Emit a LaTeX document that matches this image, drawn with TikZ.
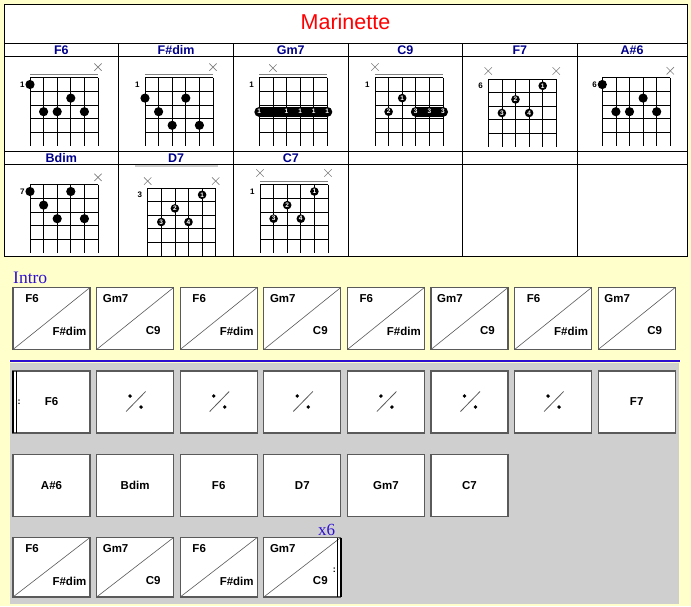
\documentclass[tikz,border=0pt]{standalone}
\usepackage{fontspec}
\setmainfont{Liberation Sans}
\newfontfamily\serifface{Liberation Serif}

\definecolor{pagebg}{RGB}{255,255,204}
\definecolor{gridarea}{RGB}{207,207,207}
\definecolor{boxedge}{RGB}{90,90,90}
\definecolor{headblue}{RGB}{0,0,140}
\definecolor{songblue}{RGB}{48,16,208}

\tikzset{
  tablerule/.style={line width=1pt},
  neckat/.style={shift={#1}, x=13.6pt, y=-13.6pt},
  gridline/.style={line width=0.8pt},
  nutline/.style={gray, line width=0.8pt},
  mutex/.style={gray, line width=0.6pt},
  fretnum/.style={font=\bfseries\fontsize{8}{8}\selectfont, inner sep=0pt},
  fingerdot/.style={circle, fill=black, text=white, inner sep=0pt, minimum size=8.6pt,
    font=\bfseries\fontsize{6.5}{6.5}\selectfont},
  barrenum/.style={text=white, inner sep=0pt, font=\bfseries\fontsize{6.5}{6.5}\selectfont},
  songtitle/.style={text=red, font=\fontsize{21.5}{22}\selectfont},
  headlbl/.style={text=headblue, inner sep=0pt, font=\bfseries\fontsize{12.5}{12.5}\selectfont},
  songlbl/.style={text=songblue, inner sep=0pt, anchor=base west},
  barbox/.style={draw=boxedge, fill=white, line width=1.3pt, minimum width=77pt,
    minimum height=62pt, inner sep=0pt, outer sep=0pt, anchor=north west,
    font=\bfseries\fontsize{11.5}{12}\selectfont},
  splitline/.style={boxedge, line width=0.6pt},
  chordlbl/.style={inner sep=0pt, font=\bfseries\fontsize{11.5}{12}\selectfont},
  repsign/.style={inner sep=0pt, font=\bfseries\fontsize{9}{9}\selectfont},
}

% chord diagram pieces (inside a neckat scope)
\newcommand{\fretgrid}[1]{%
  \foreach \s in {0,...,5} \draw[gridline] (\s,0) -- (\s,5);
  \foreach \f in {0,...,4} \draw[gridline] (0,\f) -- (5,\f);
  \node[fretnum] at (-0.57,0.5) {#1};}
\newcommand{\nutbar}{\draw[nutline] (0,-0.25) -- (5,-0.25);}
\newcommand{\mutemark}[2]{\draw[mutex] (#1,#2) ++(-0.27,-0.27) -- ++(0.54,0.54)
  (#1,#2) ++(-0.27,0.27) -- ++(0.54,-0.54);}
\newcommand{\pdot}[2]{\fill (#1,#2-0.5) circle[radius=4.6pt];}
\newcommand{\fdot}[3]{\node[fingerdot] at (#1,#2-0.5) {#3};}
\newcommand{\barre}[3]{\draw[line width=10pt, line cap=round] (#1,#3-0.5) -- (#2,#3-0.5);}
% repeat-previous-bar sign
\newcommand{\simile}[1]{%
  \draw[splitline, line width=0.8pt] ([xshift=-9pt,yshift=-9.5pt]#1.center) -- ([xshift=10.5pt,yshift=10.5pt]#1.center);
  \fill ([xshift=-5pt,yshift=6pt]#1.center) circle[radius=1.9pt];
  \fill ([xshift=6pt,yshift=-5pt]#1.center) circle[radius=1.9pt];}

\begin{document}
\begin{tikzpicture}[x=1pt, y=-1pt]
  \fill[pagebg] (0,0) rectangle (691,606);
  \useasboundingbox (0,0) rectangle (691,606);

  % chord table
  \fill[white] (4,4) rectangle (687,256.5);
  \draw[tablerule] (4,4) rectangle (687,256.5);
  \foreach \y in {43,56.5,151.3,164} \draw[tablerule] (4,\y) -- (687,\y);
  \foreach \x in {118.7,233.5,348,462.5,577} \draw[tablerule] (\x,43) -- (\x,256.5);
  \node[songtitle] (title) at (345.5,22) {Marinette};
  \foreach \x/\name [count=\i] in {61.3/F6,176.1/F\#dim,290.8/Gm7,405.3/C9,519.8/F7,632/A\#6}
    \node[headlbl] (headA\i) at (\x,49.8) {\name};
  \foreach \x/\name [count=\i] in {61.3/Bdim,176.1/D7,290.8/C7}
    \node[headlbl] (headB\i) at (\x,157.8) {\name};
  \draw[gray!40, line width=2pt] (135,165.5) -- (218,165.5);

  % F6
  \begin{scope}[neckat={(30,77.7)}]
    \fretgrid{1} \nutbar \mutemark{5}{-0.78}
    \pdot{0}{1} \pdot{3}{2} \pdot{1}{3} \pdot{2}{3} \pdot{4}{3}
  \end{scope}
  % F#dim
  \begin{scope}[neckat={(145,77.7)}]
    \fretgrid{1} \nutbar \mutemark{5}{-0.78}
    \pdot{0}{2} \pdot{3}{2} \pdot{1}{3} \pdot{2}{4} \pdot{4}{4}
  \end{scope}
  % Gm7
  \begin{scope}[neckat={(259.3,77.7)}]
    \fretgrid{1} \nutbar \mutemark{1}{-0.71}
    \barre{0}{5}{3}
    \foreach \s in {0,2,3,4,5} \node[barrenum] at (\s,2.5) {1};
  \end{scope}
  % C9
  \begin{scope}[neckat={(375,77.7)}]
    \fretgrid{1} \nutbar \mutemark{0}{-0.79}
    \fdot{2}{2}{1} \fdot{1}{3}{2}
    \barre{3}{5}{3}
    \foreach \s in {3,4,5} \node[barrenum] at (\s,2.5) {3};
  \end{scope}
  % F7
  \begin{scope}[neckat={(488.3,79)}]
    \fretgrid{6} \mutemark{0}{-0.59} \mutemark{5}{-0.59}
    \fdot{4}{1}{1} \fdot{2}{2}{2} \fdot{1}{3}{3} \fdot{3}{3}{4}
  \end{scope}
  % A#6
  \begin{scope}[neckat={(602.3,77.7)}]
    \fretgrid{6} \mutemark{5}{-0.51}
    \pdot{0}{1} \pdot{3}{2} \pdot{1}{3} \pdot{2}{3} \pdot{4}{3}
  \end{scope}
  % Bdim
  \begin{scope}[neckat={(30,184.7)}]
    \fretgrid{7} \mutemark{5}{-0.54}
    \pdot{0}{1} \pdot{3}{1} \pdot{1}{2} \pdot{2}{3} \pdot{4}{3}
  \end{scope}
  % D7
  \begin{scope}[neckat={(147.7,188)}]
    \fretgrid{3} \mutemark{0}{-0.51} \mutemark{5}{-0.51}
    \fdot{4}{1}{1} \fdot{2}{2}{2} \fdot{1}{3}{3} \fdot{3}{3}{4}
  \end{scope}
  % C7
  \begin{scope}[neckat={(260,184.7)}]
    \fretgrid{1} \nutbar \mutemark{0}{-0.86} \mutemark{5}{-0.86}
    \fdot{4}{1}{1} \fdot{2}{2}{2} \fdot{1}{3}{3} \fdot{3}{3}{4}
  \end{scope}

  % intro
  \node[songlbl, font=\serifface\fontsize{17.5}{18}\selectfont] (introlbl) at (13,283.5) {Intro};
  \foreach \top/\bot [count=\i from 0] in {F6/F\#dim,Gm7/C9,F6/F\#dim,Gm7/C9,F6/F\#dim,Gm7/C9,F6/F\#dim,Gm7/C9} {
    \node[barbox] (in\i) at (13+83.6*\i,287.5) {};
    \draw[splitline] (in\i.south west) -- (in\i.north east);
    \node[chordlbl] at ([xshift=19pt,yshift=-11pt]in\i.north west) {\top};
    \node[chordlbl] at ([xshift=-20.5pt,yshift=18.5pt]in\i.south east) {\bot};
  }

  % verse
  \fill[gridarea] (10,362.5) rectangle (678.5,604);
  \draw[songblue, line width=2.2pt] (10,361) -- (680,361);

  \node[barbox] (va0) at (13,371) {F6};
  \foreach \i in {1,...,6} {
    \node[barbox] (va\i) at (13+83.6*\i,371) {};
    \simile{va\i}
  }
  \node[barbox] (va7) at (13+83.6*7,371) {F7};
  \draw[line width=1.6pt] (va0.north west) -- (va0.south west);
  \draw[line width=0.7pt] ([xshift=3pt]va0.north west) -- ([xshift=3pt]va0.south west);
  \node[repsign] at ([xshift=6pt]va0.west) {:};

  \foreach \name [count=\i from 0] in {A\#6,Bdim,F6,D7,Gm7,C7}
    \node[barbox] (vb\i) at (13+83.6*\i,454.5) {\name};

  \foreach \top/\bot [count=\i from 0] in {F6/F\#dim,Gm7/C9,F6/F\#dim,Gm7/C9} {
    \node[barbox, minimum height=59.5pt] (vc\i) at (13+83.6*\i,537.5) {};
    \draw[splitline] (vc\i.south west) -- (vc\i.north east);
    \node[chordlbl] at ([xshift=19pt,yshift=-11.5pt]vc\i.north west) {\top};
    \node[chordlbl] at ([xshift=-20.5pt,yshift=16pt]vc\i.south east) {\bot};
  }
  \draw[line width=1.6pt] (vc3.north east) -- (vc3.south east);
  \draw[line width=0.7pt] ([xshift=-3.5pt]vc3.north east) -- ([xshift=-3.5pt]vc3.south east);
  \node[repsign] at ([xshift=-6.5pt,yshift=-2.5pt]vc3.east) {:};
  \node[songlbl, font=\serifface\fontsize{17}{17}\selectfont] (times) at (318,535) {x6};
\end{tikzpicture}
\end{document}
